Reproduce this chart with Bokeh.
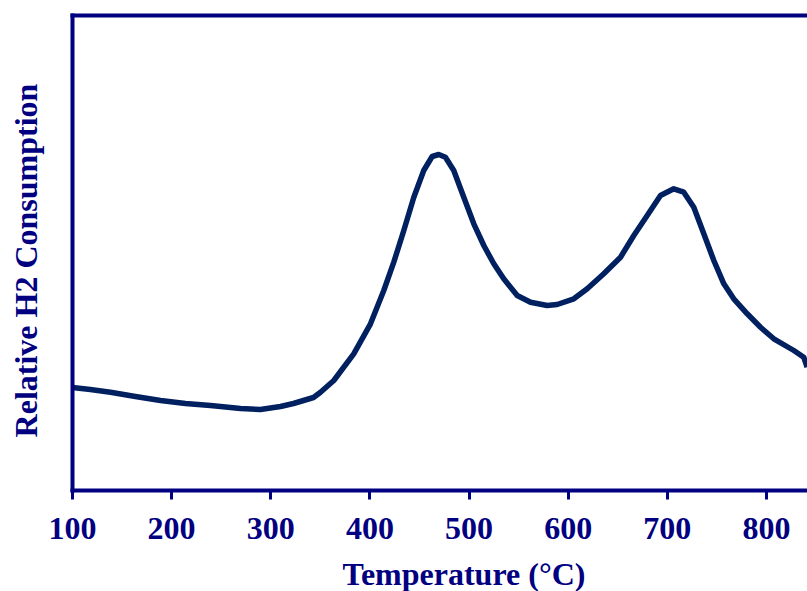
import numpy as np
from bokeh.plotting import figure
from bokeh.models import Range1d, FixedTicker, LinearAxis, Label
from bokeh.embed import file_html
from bokeh.resources import INLINE

# Temperature (°C) and relative H2 consumption (arbitrary units)
temperature = [100, 118, 138.3, 163.5, 188.8, 214, 239.2, 269.5, 289.6, 309.8, 322.9,
               343.1, 350.2, 363.6, 383.7, 400.6, 414, 424.1, 434.2, 444.3, 454.3,
               462.8, 469.5, 476.2, 484.6, 494.7, 504.8, 514.9, 525, 535, 548.6, 562,
               578.8, 588.9, 605.7, 619.2, 635.9, 652.8, 666.2, 679.7, 693.1, 706.5,
               716.6, 726.7, 736.8, 746.9, 757, 767, 780.6, 794, 807.4, 827.6, 837.6, 841]
h2_consumption = [103, 101, 98.3, 94, 90, 87, 85, 82, 81, 84, 87,
                  93, 98.3, 110, 136.7, 166.7, 200, 228.3, 260, 293.3, 320,
                  334, 336, 333.3, 320, 293.3, 266.7, 245, 226.7, 211.7, 195, 188.3,
                  185, 186, 191.7, 201.7, 216.7, 233.3, 255, 275, 295, 301.7,
                  298.3, 283.3, 256.7, 230, 206.7, 191.7, 176.7, 163.3, 151.7, 140, 133.3, 123.3]
x_ticks = [100, 200, 300, 400, 500, 600, 700, 800]
x_title = "Temperature (°C)"
y_title = "Relative H2 Consumption"

NAVY = "#000080"
CURVE = "#002060"
FONT = "Liberation Serif"

X0, X1 = 100, 841.4      # plotted temperature span
Y0, Y1 = 0, 475.5        # plotted signal span (bottom axis to top border)

p = figure(width=807, height=591, output_backend="svg", toolbar_location=None,
           x_range=Range1d(27.4, 841.4), y_range=Range1d(-101, 490),
           x_axis_type=None, y_axis_type=None,
           min_border_left=0, min_border_right=0, min_border_top=0, min_border_bottom=0)
p.background_fill_color = "white"
p.border_fill_color = "white"
p.outline_line_color = None
p.grid.visible = False

p.line(temperature, h2_consumption, line_color=CURVE, line_width=5.5, line_join="round")


def bare_axis(loc, bounds):
    ax = LinearAxis(fixed_location=loc, bounds=bounds, ticker=FixedTicker(ticks=[]))
    ax.axis_line_color = NAVY
    ax.axis_line_width = 4
    ax.major_tick_line_color = None
    ax.minor_tick_line_color = None
    ax.major_label_text_font_size = "0px"
    return ax


xa = LinearAxis(fixed_location=Y0, bounds=(X0 - 2, X1), ticker=FixedTicker(ticks=x_ticks))
xa.axis_line_color = NAVY
xa.axis_line_width = 4
xa.major_tick_line_color = NAVY
xa.major_tick_line_width = 3
xa.major_tick_in = 0
xa.major_tick_out = 9
xa.minor_tick_line_color = None
xa.major_label_text_font = FONT
xa.major_label_text_font_style = "bold"
xa.major_label_text_font_size = "32px"
xa.major_label_text_color = NAVY
xa.major_label_standoff = 18
p.add_layout(xa, "below")

p.add_layout(bare_axis(X0, (Y0 - 2, Y1 + 2)), "left")
p.add_layout(bare_axis(Y1, (X0 - 2, X1)), "above")

p.add_layout(Label(x=494.9, y=-83, text=x_title, text_font=FONT,
                   text_font_style="bold", text_font_size="32px", text_color=NAVY,
                   text_align="center", text_baseline="alphabetic"))
p.add_layout(Label(x=53.1, y=230, text=y_title, text_font=FONT,
                   text_font_style="bold", text_font_size="32px", text_color=NAVY,
                   text_align="center", text_baseline="alphabetic", angle=np.pi / 2))

open("out.html", "w").write(file_html(p, INLINE))
